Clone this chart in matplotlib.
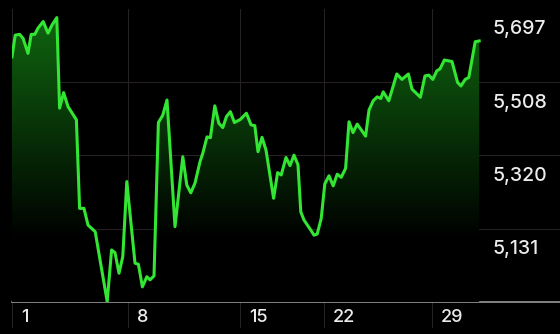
import matplotlib
matplotlib.use("Agg")
import matplotlib.pyplot as plt
import numpy as np

# sample position (trading-time steps) and index level
t = [0, 0.8, 1.9, 2.75, 4.0, 4.8, 5.7, 6.5, 7.8, 9.0, 10.0, 11.2,
     11.9, 12.9, 14.0, 16.1, 16.9, 18.0, 19.0, 20.8, 23.8, 24.9, 25.75,
     26.75, 27.7, 28.7, 30.75, 31.6, 32.6, 33.7, 34.5, 35.5, 36.6, 37.7,
     38.75, 40.75, 42.7, 43.7, 44.7, 45.75, 47.0, 47.7, 48.75, 49.6, 50.7,
     51.7, 52.7, 53.6, 54.6, 55.6, 57.1, 58.6, 59.75, 60.7, 61.5, 62.5,
     63.5, 65.4, 66.4, 67.3, 68.5, 69.5, 70.5, 71.5, 72.2, 73.0, 74.7,
     75.5, 76.3, 77.3, 78.2, 79.25, 80.3, 81.3, 82.3, 83.4, 84.25, 85.25,
     86.3, 88.4, 89.25, 90.3, 91.3, 92.2, 92.8, 94.2, 96.2, 97.5, 99.1,
     100.0, 102.1, 103.25, 104.2, 105.2, 106.2, 107.0, 108.1, 110.0,
     111.4, 112.25, 113.3, 114.2, 115.8, 116.8]
price = [5573, 5629, 5631, 5621, 5582, 5631, 5631, 5647, 5664, 5634, 5655, 5674,
         5441, 5481, 5445, 5411, 5183, 5183, 5140, 5123, 4943, 5076, 5069,
         5016, 5059, 5252, 5042, 5039, 4981, 5007, 4999, 5009, 5404, 5423,
         5462, 5136, 5316, 5243, 5223, 5248, 5303, 5325, 5367, 5365, 5447,
         5402, 5391, 5419, 5432, 5404, 5412, 5428, 5398, 5396, 5329, 5366,
         5333, 5209, 5275, 5269, 5314, 5293, 5320, 5295, 5174, 5153, 5127,
         5114, 5117, 5157, 5246, 5267, 5241, 5271, 5263, 5286, 5406, 5378,
         5400, 5369, 5436, 5460, 5470, 5466, 5483, 5460, 5529, 5515, 5529,
         5490, 5469, 5524, 5526, 5515, 5537, 5542, 5565, 5561,
         5507, 5498, 5515, 5520, 5612, 5614]

day_labels = ["1", "8", "15", "22", "29"]
day_pos = [0, 29, 57, 78, 105]
level_ticks = [5697, 5508, 5320, 5131]
level_labels = ["5,697", "5,508", "5,320", "5,131"]

plt.rcParams['font.family'] = ['Inter', 'DejaVu Sans']

fig = plt.figure(figsize=(5.6, 3.34), dpi=100, facecolor='black')
ax = fig.add_axes([12 / 560, (334 - 302) / 334, 1 - 12 / 560, (302 - 8.7) / 334])
ax.set_facecolor('black')
ymin, ymax = 4942, 5697
ax.set_xlim(0, 137)
ax.set_ylim(ymin, ymax)
for s in ax.spines.values():
    s.set_visible(False)
ax.set_xticks([])
ax.set_yticks([])

# grid
for v in level_ticks[1:]:
    ax.axhline(v, color='#262224', lw=0.8, zorder=0)
for p in day_pos:
    ax.axvline(p, ymin=-0.084, ymax=1, color='#262224', lw=0.8, clip_on=False, zorder=0)
ax.axhline(ymin, color='#9a989a', lw=1.2, zorder=1, clip_on=False)

# gradient fill under line
poly = ax.fill_between(t, price, ymin, color='none', lw=0)
fade_to = 5102
ys = np.linspace(ymax, ymin, 300)
k = np.clip((ys - fade_to) / (ymax - fade_to), 0, 1)
grad = np.zeros((300, 1, 3))
grad[:, 0, 0] = 16 / 255 * k
grad[:, 0, 1] = 105 / 255 * k
grad[:, 0, 2] = 16 / 255 * k
im = ax.imshow(grad, extent=[t[0], t[-1], ymin, ymax], aspect='auto', zorder=2)
im.set_clip_path(poly.get_paths()[0], transform=ax.transData)

ax.plot(t, price, color='#33e633', lw=2.2, zorder=3, solid_joinstyle='round')

# labels
for v, lab in zip(level_ticks, level_labels):
    ax.annotate(lab, xy=(481 / 548, v), xycoords=('axes fraction', 'data'),
                xytext=(0, -14.8), textcoords='offset points',
                ha='left', va='center', color='#ececec', fontsize=14,
                fontweight='medium')
for p, lab in zip(day_pos, day_labels):
    ax.annotate(lab, xy=(p, 0), xycoords=('data', 'axes fraction'),
                xytext=(6.5, -11.4), textcoords='offset points',
                ha='left', va='center', color='#ececec', fontsize=13,
                fontweight='medium')

fig.savefig('out.png', dpi=100, facecolor='black')
